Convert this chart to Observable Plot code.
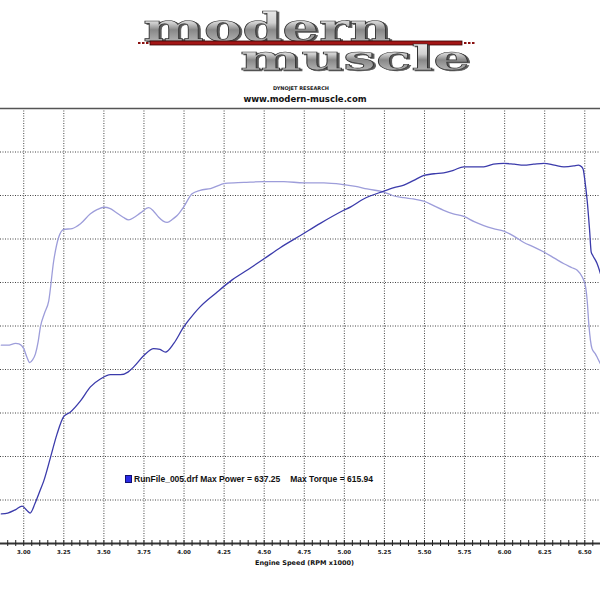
<!DOCTYPE html>
<html><head><meta charset="utf-8">
<script src="https://cdn.jsdelivr.net/npm/d3@7"></script>
<script src="https://cdn.jsdelivr.net/npm/@observablehq/plot@0.6"></script>
<style>
html,body{margin:0;padding:0;background:#fff;}
#wrap{position:relative;width:600px;height:600px;overflow:hidden;background:#fff;}
#header{position:absolute;left:0;top:0;}
#chart{position:absolute;left:0;top:104px;}
#legend{position:absolute;left:125px;top:475px;font:bold 8.5px "Liberation Sans",Arial,sans-serif;color:#111;white-space:pre;display:flex;align-items:center;line-height:8px;}
#legend .sw{display:inline-block;width:5px;height:6px;background:#2a2ae6;border:1px solid #101070;margin-right:2px;}
#legend .gap{display:inline-block;width:10px;}
</style></head><body>
<div id="wrap">
<svg id="header" width="600" height="104" xmlns="http://www.w3.org/2000/svg">
  <defs>
    <linearGradient id="chrome" x1="0" y1="0" x2="0" y2="1">
      <stop offset="0" stop-color="#f6f6f6"/>
      <stop offset="0.4" stop-color="#d0d0d0"/>
      <stop offset="0.55" stop-color="#888"/>
      <stop offset="0.8" stop-color="#b0b0b0"/>
      <stop offset="1" stop-color="#e0e0e0"/>
    </linearGradient>
    <filter id="shadow" x="-5%" y="-20%" width="110%" height="140%">
      <feDropShadow dx="2" dy="1" stdDeviation="0.6" flood-color="#333" flood-opacity="0.8"/>
    </filter>
  </defs>
  <g font-family="DejaVu Serif" font-weight="bold" filter="url(#shadow)">
    <text transform="translate(143,41) scale(1,0.78)" font-size="50" textLength="248" lengthAdjust="spacingAndGlyphs" fill="url(#chrome)" stroke="#333" stroke-width="0.8">modern</text>
  </g>
  <rect x="150" y="41" width="312" height="4" fill="#a31616" stroke="#3a0505" stroke-width="0.8"/>
  <g fill="#8a1010">
    <rect x="138" y="42" width="2.5" height="2"/><rect x="142" y="42" width="2.5" height="2"/><rect x="146" y="42" width="2.5" height="2"/>
    <rect x="464" y="42" width="2.5" height="2"/><rect x="468" y="42" width="2.5" height="2"/><rect x="472" y="42" width="2.5" height="2"/>
  </g>
  <g font-family="DejaVu Serif" font-weight="bold" filter="url(#shadow)">
    <text transform="translate(240,70) scale(1,0.72)" font-size="46" textLength="230" lengthAdjust="spacingAndGlyphs" fill="url(#chrome)" stroke="#333" stroke-width="0.8">muscle</text>
  </g>
  <text x="301" y="90" text-anchor="middle" font-family="DejaVu Sans" font-weight="bold" font-size="5" fill="#222">DYNOJET RESEARCH</text>
  <text x="305" y="102" text-anchor="middle" font-family="DejaVu Sans" font-weight="bold" font-size="8.5" fill="#111">www.modern-muscle.com</text>
</svg>
<div id="chart"></div>
<div id="legend"></div>
</div>
<script>
// Engine speed (RPM x1000) and power curve
const powerRpm = [2.86,2.90,2.95,2.99,3.02,3.04,3.07,3.10,3.125,3.167,3.208,3.25,3.29,3.354,3.416,3.478,3.541,3.603,3.65,3.686,3.749,3.811,3.85,3.884,3.936,3.998,4.061,4.10,4.20,4.30,4.40,4.497,4.60,4.726,4.85,4.996,5.04,5.12,5.246,5.31,5.371,5.43,5.496,5.56,5.62,5.68,5.745,5.87,5.93,5.995,6.06,6.12,6.18,6.245,6.31,6.37,6.43,6.46,6.48,6.49,6.50,6.515,6.53,6.54,6.55,6.576,6.598];
const powerVal = [234,235,239,243,238,235,246,260,272,299,326,346,351,364,380,389,394,394,397,403,416,424,423,420,430,449,464,472,488,503,515,527,540,554,568,583,587,596,605,609,612,617,623,625,626,629,633,633,636,637,636,635,636,637,635,633,634,635,633,630,618,594,560,535,531,522,510];
// Torque curve
const torqueRpm = [2.86,2.90,2.95,2.97,3.00,3.02,3.037,3.055,3.073,3.09,3.104,3.13,3.156,3.187,3.218,3.25,3.302,3.354,3.416,3.46,3.50,3.54,3.572,3.62,3.655,3.69,3.728,3.78,3.81,3.842,3.87,3.895,3.93,3.957,3.998,4.05,4.10,4.165,4.258,4.373,4.497,4.622,4.747,4.872,4.996,5.07,5.142,5.246,5.30,5.371,5.43,5.496,5.56,5.62,5.68,5.745,5.81,5.87,5.93,5.995,6.06,6.12,6.18,6.245,6.31,6.37,6.42,6.453,6.485,6.505,6.515,6.525,6.545,6.566,6.58,6.598];
const torqueVal = [428,428,430,429.5,424,414,408,411,418,432,449,465,479,525,552,561,562,567.5,579,584,586.5,585,581,575,572,575,580,586,582,575,570.5,569,573,577,587,602,606,608,614,615,616,616,614.5,614.5,612.5,610.5,607.5,604,600,597.5,596,593.5,588,583,579,576,570,565.5,562,559,553,546,541,535,528,521.5,517,514,506,495,479,452.5,424,418,413,406.5];
// Axis ticks / labels
const xMajor = [3.00,3.25,3.50,3.75,4.00,4.25,4.50,4.75,5.00,5.25,5.50,5.75,6.00,6.25,6.50];
const xMinor = [2.90,2.95,3.00,3.05,3.10,3.15,3.20,3.25,3.30,3.35,3.40,3.45,3.50,3.55,3.60,3.65,3.70,3.75,3.80,3.85,3.90,3.95,4.00,4.05,4.10,4.15,4.20,4.25,4.30,4.35,4.40,4.45,4.50,4.55,4.60,4.65,4.70,4.75,4.80,4.85,4.90,4.95,5.00,5.05,5.10,5.15,5.20,5.25,5.30,5.35,5.40,5.45,5.50,5.55,5.60,5.65,5.70,5.75,5.80,5.85,5.90,5.95,6.00,6.05,6.10,6.15,6.20,6.25,6.30,6.35,6.40,6.45,6.50,6.55];
const yGrid = [250,300,350,400,450,500,550,600,650];
const yTop = [700];
const yBottom = [200];
const xLabel = "Engine Speed (RPM x1000)";
const runFile = "RunFile_005.drf";
const maxPower = 637.25;
const maxTorque = 615.94;

const power = powerRpm.map((r,i)=>({rpm:r, v:powerVal[i]}));
const torque = torqueRpm.map((r,i)=>({rpm:r, v:torqueVal[i]}));

const chart = Plot.plot({
  width: 600, height: 470,
  marginLeft: 0, marginRight: 0, marginTop: 4, marginBottom: 31,
  x: {domain: [2.855, 6.598]},
  y: {domain: [200, 700], axis: null},
  style: {background: "transparent", fontFamily: "DejaVu Sans"},
  marks: [
    Plot.ruleX(xMajor, {stroke: "#444", strokeWidth: 1, strokeDasharray: "1,1.5"}),
    Plot.ruleY(yGrid, {stroke: "#444", strokeWidth: 1, strokeDasharray: "1,1.5"}),
    Plot.ruleY(yTop, {stroke: "#555", strokeWidth: 1.5}),
    Plot.line(torque, {x: "rpm", y: "v", stroke: "#9d9dda", strokeWidth: 1.3, curve: "monotone-x"}),
    Plot.line(power, {x: "rpm", y: "v", stroke: "#3b3bab", strokeWidth: 1.3, curve: "monotone-x"}),
    Plot.ruleY(yBottom, {stroke: "#9a9a9a", strokeWidth: 3}),
    Plot.ruleY(yBottom, {stroke: "#333", strokeWidth: 1}),
    Plot.ruleX(xMinor, {x: d => d, y1: () => 200, y2: () => 200, insetTop: -3, insetBottom: -3, stroke: "#222", strokeWidth: 1}),
    Plot.axisX(xMajor, {tickSize: 0, tickPadding: 7, tickFormat: d => d.toFixed(2), fontSize: 5.5, fontWeight: "bold", fill: "#222", label: null}),
    Plot.text([xLabel], {frameAnchor: "bottom", dy: 21, dx: 4, fontSize: 6.5, fontWeight: "bold", fill: "#111"})
  ]
});
document.getElementById("chart").appendChild(chart);

const lg = document.getElementById("legend");
lg.innerHTML = `<span class="sw"></span><span>${runFile} Max Power = ${maxPower.toFixed(2)}</span><span class="gap"></span><span>Max Torque = ${maxTorque.toFixed(2)}</span>`;
</script>
</body></html>
